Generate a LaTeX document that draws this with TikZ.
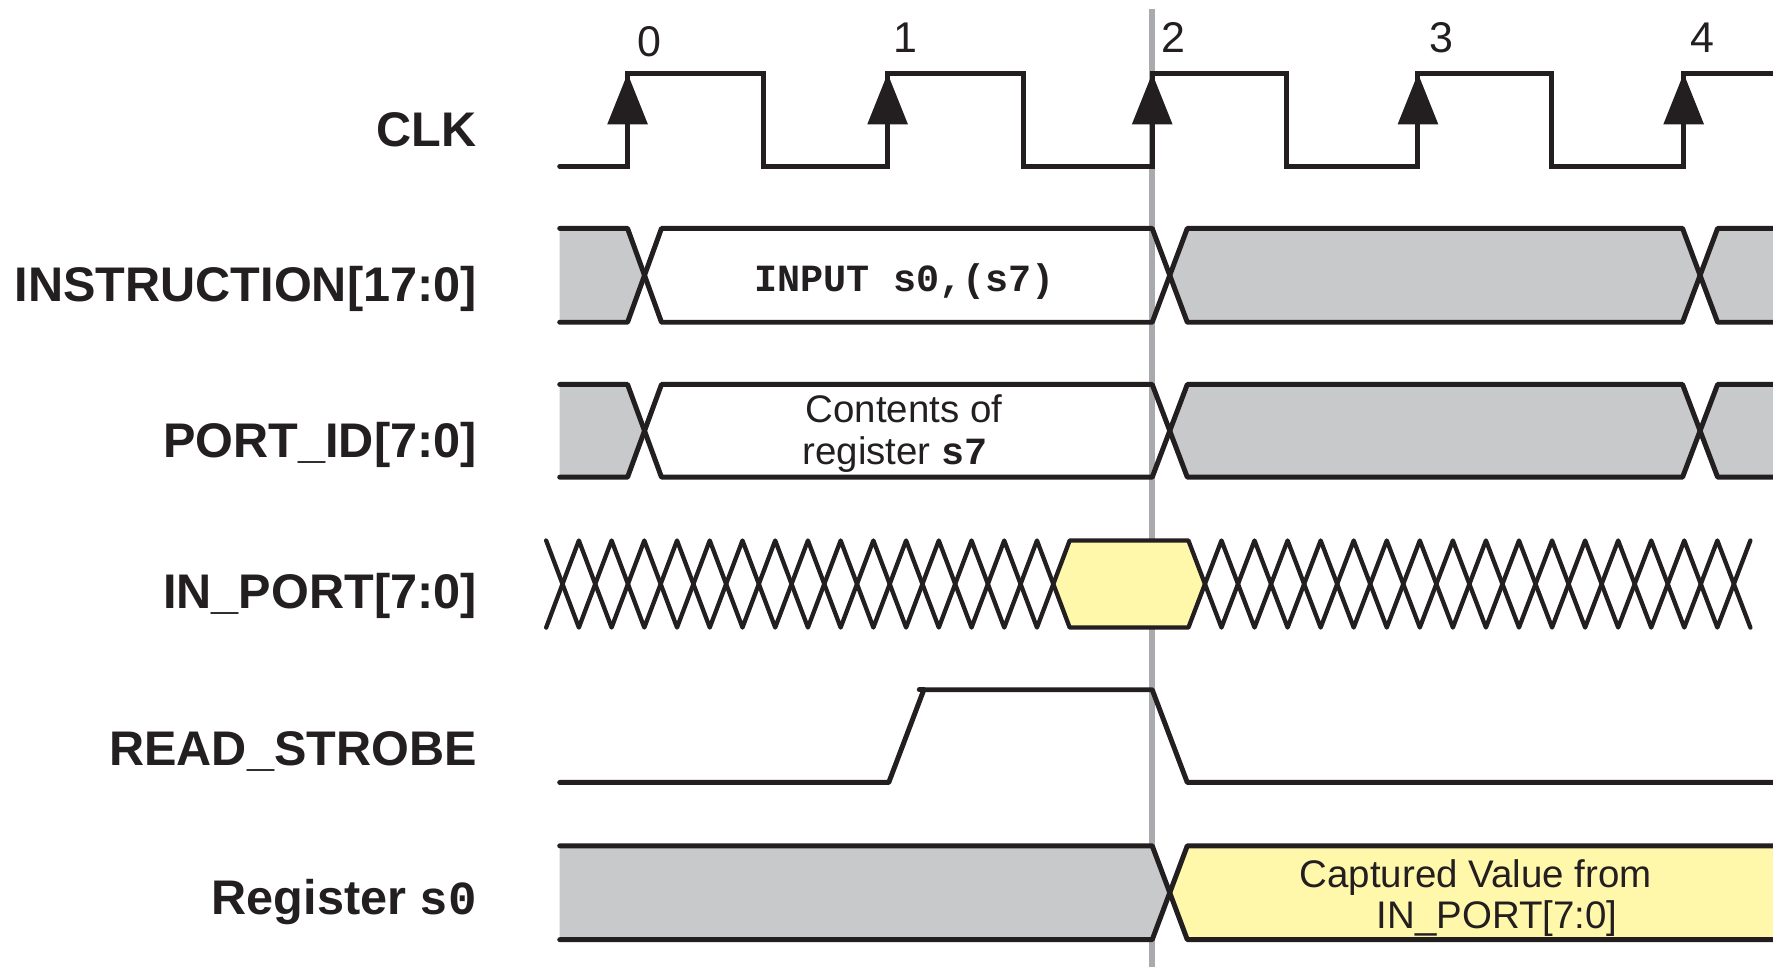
\documentclass[tikz,border=0pt]{standalone}
\usepackage{fontspec}
\setmainfont{Liberation Sans}
\setmonofont{Liberation Mono}
\definecolor{ink}{RGB}{35,31,32}
\definecolor{busgray}{RGB}{200,201,203}
\definecolor{busyel}{RGB}{255,247,170}
\definecolor{guide}{RGB}{168,170,174}
\tikzset{
  wave/.style={draw=ink, line width=2.2pt, line join=round, line cap=round},
  clkwave/.style={draw=ink, line width=2.2pt, line join=miter, line cap=round},
  zig/.style={draw=ink, line width=1.9pt, line join=round, line cap=round},
  sigtag/.style={anchor=base east, inner sep=0pt, text=ink, font=\fontsize{21.5}{24}\selectfont\bfseries},
  edgenum/.style={anchor=base, inner sep=0pt, text=ink, font=\fontsize{19}{22}\selectfont},
  bustext/.style={anchor=base, inner sep=0pt, text=ink, font=\fontsize{17}{19}\selectfont},
  codetext/.style={anchor=base, inner sep=0pt, text=ink, font=\fontsize{17}{19}\selectfont\ttfamily\bfseries},
  edgearrow/.style={fill=ink}
}
\begin{document}
\begin{tikzpicture}[x=0.5pt,y=-0.5pt]
\useasboundingbox (0,0) rectangle (1568,855);

% guide line at edge 2
\draw[guide, line width=2.6pt] (1019,8) -- (1019,855);

% ---------- labels ----------
\node[sigtag] (lclk)   at (422,130) {CLK};
\node[sigtag] (linstr) at (422,267) {INSTRUCTION[17:0]};
\node[sigtag] (lpid)   at (422,405) {PORT\_ID[7:0]};
\node[sigtag] (linp)   at (422,538) {IN\_PORT[7:0]};
\node[sigtag] (lrs)    at (422,677) {READ\_STROBE};
\node[sigtag] (lreg)   at (422,809) {Register {\fontsize{21}{24}\selectfont\ttfamily\bfseries s0}};

% ---------- clock ----------
\draw[clkwave] (495,147) -- (555,147) -- (555,65) -- (675,65) -- (675,147)
  -- (785,147) -- (785,65) -- (905,65) -- (905,147)
  -- (1019,147) -- (1019,65) -- (1138,65) -- (1138,147)
  -- (1254,147) -- (1254,65) -- (1372,65) -- (1372,147)
  -- (1489,147) -- (1489,65) -- (1568,65);
\foreach \ex in {555,785,1019,1254,1489}{
  \fill[edgearrow] (\ex,65) -- (\ex+18,110) -- (\ex-18,110) -- cycle;
}
\node[edgenum] (n0) at (574,50) {0};
\node[edgenum] (n1) at (801,46) {1};
\node[edgenum] (n2) at (1038,46) {2};
\node[edgenum] (n3) at (1275,46) {3};
\node[edgenum] (n4) at (1506,46) {4};

% ---------- INSTRUCTION and PORT_ID buses ----------
\foreach \t/\b in {202/285, 340/422}{
  \pgfmathsetmacro\m{(\t+\b)/2}
  \fill[busgray] (495,\t) -- (555,\t) -- (570,\m) -- (555,\b) -- (495,\b) -- cycle;
  \fill[busgray] (1034.5,\m) -- (1050,\t) -- (1488,\t) -- (1503.5,\m) -- (1488,\b) -- (1050,\b) -- cycle;
  \fill[busgray] (1503.5,\m) -- (1519,\t) -- (1570,\t) -- (1570,\b) -- (1519,\b) -- cycle;
  \draw[wave] (495,\t) -- (555,\t) -- (585,\b) -- (1019,\b) -- (1050,\t) -- (1488,\t) -- (1519,\b) -- (1570,\b);
  \draw[wave] (495,\b) -- (555,\b) -- (585,\t) -- (1019,\t) -- (1050,\b) -- (1488,\b) -- (1519,\t) -- (1570,\t);
}
\node[codetext] (tinstr) at (800,258) {INPUT s0,(s7)};
\node[bustext] (tpid1) at (799.5,374) {Contents of};
\node[bustext] (tpid2) at (791.5,411) {register {\ttfamily\bfseries s7}};

% ---------- IN_PORT ----------
\fill[busyel] (931.5,516.5) -- (946,478) -- (1051,478) -- (1065.6,516.5) -- (1051,555) -- (946,555) -- cycle;
\draw[zig] (483,478) foreach \k in {1,...,16}{ -- ({483+\k*28.9375},{478+77*mod(\k,2)}) }
  -- (1051,478) foreach \k in {1,...,17}{ -- ({1051+\k*29.235},{478+77*mod(\k,2)}) };
\draw[zig] (483,555) foreach \k in {1,...,16}{ -- ({483+\k*28.9375},{555-77*mod(\k,2)}) }
  -- (1051,555) foreach \k in {1,...,17}{ -- ({1051+\k*29.235},{555-77*mod(\k,2)}) };

% ---------- READ_STROBE ----------
\draw[wave] (495,692) -- (786,692) -- (817,610) -- (1019,610) -- (1050,692) -- (1570,692);
\draw[wave] (813,610) -- (817,610);

% ---------- Register s0 ----------
\fill[busgray] (495,748) -- (1019,748) -- (1034.5,789.5) -- (1019,831) -- (495,831) -- cycle;
\fill[busyel] (1034.5,789.5) -- (1050,748) -- (1570,748) -- (1570,831) -- (1050,831) -- cycle;
\draw[wave] (495,748) -- (1019,748) -- (1050,831) -- (1570,831);
\draw[wave] (495,831) -- (1019,831) -- (1050,748) -- (1570,748);
\node[bustext] (treg1) at (1305,785) {Captured Value from};
\node[bustext] (treg2) at (1324,821) {IN\_PORT[7:0]};
\end{tikzpicture}
\end{document}
